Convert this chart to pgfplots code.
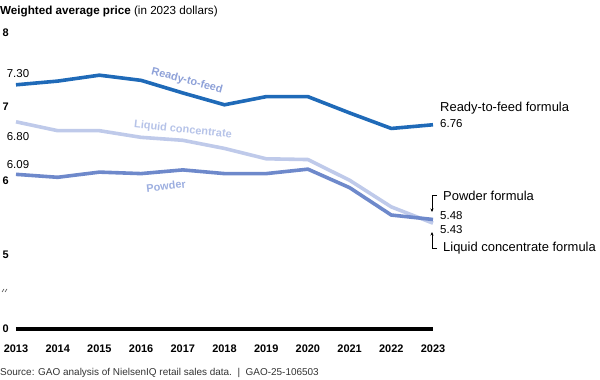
\documentclass[border=0pt]{standalone}
\usepackage{fontspec}
\setmainfont{Liberation Sans}
\usepackage{pgfplots}
\pgfplotsset{compat=1.18}
\usetikzlibrary{arrows.meta}
\definecolor{rtf}{HTML}{1F6AB8}
\definecolor{lc}{HTML}{BFCAEA}
\definecolor{pw}{HTML}{6E89CB}
\definecolor{rtflab}{HTML}{8EA1D8}
\definecolor{lclab}{HTML}{B6C3E8}
\definecolor{pwlab}{HTML}{9DAFE0}
\definecolor{srcgray}{HTML}{333333}
\begin{document}
\begin{tikzpicture}
\useasboundingbox (0bp,0bp) rectangle (600bp,380bp);
\begin{axis}[
  at={(16bp,51bp)}, anchor=south west,
  scale only axis, width=417bp, height=296bp,
  xmin=2013, xmax=2023, ymin=4, ymax=8,
  clip=false,
  axis x line*=bottom, axis y line*=left,
  x axis line style={line width=3.2bp, black, -},
  y axis line style={draw=none},
  major tick length=0pt, tick style={draw=none},
  xtick={2013,2014,2015,2016,2017,2018,2019,2020,2021,2022,2023},
  xticklabels={2013,2014,2015,2016,2017,2018,2019,2020,2021,2022,2023},
  ytick={4,5,6,7,8},
  yticklabels={0,5,6,7,8},
  ticklabel style={font=\fontsize{11}{13}\selectfont\bfseries, text=black},
  xticklabel style={yshift=-12bp},
  yticklabel style={anchor=west, xshift=-17bp},
]
\addplot[rtf, line width=3.6bp, line join=round] coordinates {
(2013,7.30) (2014,7.35) (2015,7.43) (2016,7.36) (2017,7.19) (2018,7.03) (2019,7.14) (2020,7.14) (2021,6.92) (2022,6.71) (2023,6.76)};
\addplot[lc, line width=3.6bp, line join=round] coordinates {
(2013,6.80) (2014,6.68) (2015,6.68) (2016,6.59) (2017,6.55) (2018,6.44) (2019,6.30) (2020,6.29) (2021,6.01) (2022,5.65) (2023,5.43)};
\addplot[pw, line width=3.6bp, line join=round] coordinates {
(2013,6.09) (2014,6.05) (2015,6.12) (2016,6.10) (2017,6.15) (2018,6.10) (2019,6.10) (2020,6.16) (2021,5.91) (2022,5.54) (2023,5.48)};
\end{axis}
\begin{scope}[x=1bp,y=1bp]
% title
\node[anchor=base west, inner sep=0] at (0,366) {\fontsize{11.7}{14}\selectfont\textbf{Weighted average price} (in 2023 dollars)};
% source
\node[anchor=base west, inner sep=0, text=srcgray] at (0,4.5) {\fontsize{10}{12}\selectfont Source: GAO analysis of NielsenIQ retail sales data.\ \ |\ \ GAO-25-106503};
% axis break
\draw[line width=0.6bp, black!70] (2,88) -- (4,91) (5,88) -- (7,91);
% left value labels
\node[anchor=base, inner sep=0] at (18,303) {\fontsize{11.5}{13}\selectfont 7.30};
\node[anchor=base, inner sep=0] at (18,240) {\fontsize{11.5}{13}\selectfont 6.80};
\node[anchor=base, inner sep=0] at (18,212) {\fontsize{11.5}{13}\selectfont 6.09};
% inline series labels
\node[rotate=-15, text=rtflab, inner sep=0] at (187,299) {\fontsize{11}{13}\selectfont\bfseries Ready-to-feed};
\node[rotate=-6, text=lclab, inner sep=0] at (183,250) {\fontsize{11}{13}\selectfont\bfseries Liquid concentrate};
\node[rotate=6.5, text=pwlab, inner sep=0] at (166,194) {\fontsize{11}{13}\selectfont\bfseries Powder};
% right labels
\node[anchor=west, inner sep=0] at (440,272) {\fontsize{13}{15}\selectfont Ready-to-feed formula};
\node[anchor=west, inner sep=0] at (440,256) {\fontsize{11.5}{13}\selectfont 6.76};
\node[anchor=west, inner sep=0] at (443,184) {\fontsize{13}{15}\selectfont Powder formula};
\node[anchor=west, inner sep=0] at (440,164) {\fontsize{11.5}{13}\selectfont 5.48};
\node[anchor=west, inner sep=0] at (440,150) {\fontsize{11.5}{13}\selectfont 5.43};
\node[anchor=west, inner sep=0] at (443,132) {\fontsize{13}{15}\selectfont Liquid concentrate formula};
\draw[line width=0.6bp, -{Stealth[length=3.5bp,width=3bp]}] (437,185) -- (432,185) -- (432,168);
\draw[line width=0.6bp, -{Stealth[length=3.5bp,width=3bp]}] (437,132) -- (432,132) -- (432,148);
\end{scope}
\end{tikzpicture}
\end{document}
